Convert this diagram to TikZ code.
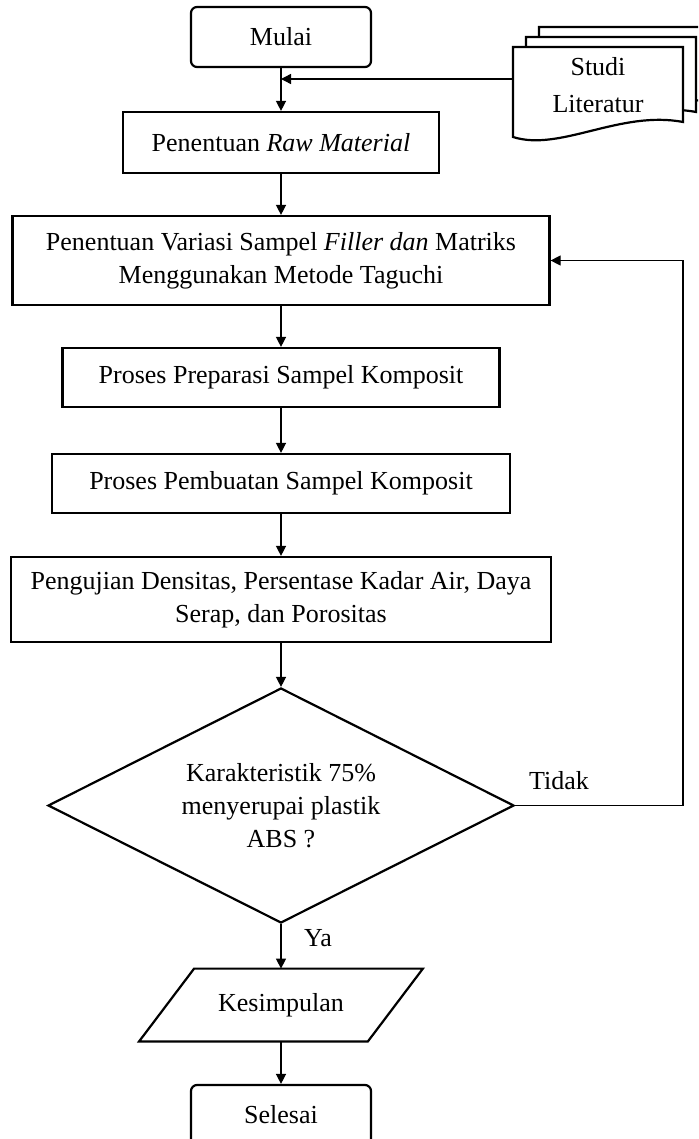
\documentclass[tikz,border=0pt]{standalone}
\usepackage{fontspec}
\setmainfont{Liberation Serif}
\usetikzlibrary{arrows.meta,positioning,shapes.geometric}

\begin{document}
\begin{tikzpicture}[x=0.5pt, y=-0.5pt, font=\fontsize{13}{16.5}\selectfont,
    term/.style={draw, line width=1.1pt, rounded corners=3pt, minimum width=90pt, minimum height=30pt},
    proc/.style={draw, line width=1.1pt, align=center, inner sep=0pt},
    decide/.style={draw, diamond, aspect=2, line width=1.1pt, align=center, inner sep=0pt, minimum width=233pt, minimum height=117.5pt},
    io/.style={inner sep=0pt, minimum width=114pt, minimum height=36pt},
    doc/.style={draw, line width=1.1pt, fill=white},
    flow/.style={-{Triangle[length=5pt, width=5pt]}, line width=0.7pt},
    back/.style={line width=0.6pt}
]

% Page frame (bottom box is cut off like in the source)
\useasboundingbox (0,0) rectangle (698,1139);
\clip (0,0) rectangle (698,1139);

% Literature documents (stack of three)
\foreach \dx/\dy in {26/-20, 13/-10, 0/0}
    \draw[doc, shift={(\dx,\dy)}] (513,47) -- (683,47) -- (683,122) .. controls (620,110) and (560,152) .. (513,137) -- cycle;
\node[align=center, inner sep=0pt] (studi) at (598,85) {Studi\\[2pt]Literatur};
\coordinate (docin) at (513,79);

% Main flow
\node[term] (mulai) at (281,37) {Mulai};
\node[proc, minimum width=158pt, minimum height=30.5pt] (raw) at (281,142.5) {Penentuan \textit{Raw Material}};
\node[proc, minimum width=268.5pt, minimum height=44.5pt] (filler) at (281,260.5) {Penentuan Variasi Sampel \textit{Filler dan} Matriks\\Menggunakan Metode Taguchi};
\node[proc, minimum width=218.5pt, minimum height=29.5pt] (prep) at (281,377.5) {Proses Preparasi Sampel Komposit};
\node[proc, minimum width=229pt, minimum height=29.5pt] (buat) at (281,483.5) {Proses Pembuatan Sampel Komposit};
\node[proc, minimum width=270pt, minimum height=42.5pt] (uji) at (281,599.5) {Pengujian Densitas, Persentase Kadar Air, Daya\\Serap, dan Porositas};
\node[decide] (cek) at (281,805.5) {Karakteristik 75\%\\menyerupai plastik\\ABS ?};
\node[io] (simpul) at (281,1005) {Kesimpulan};
\draw[line width=1.1pt] ([xshift=13.75pt]simpul.north west) -- ([xshift=13.75pt]simpul.north east)
    -- ([xshift=-13.75pt]simpul.south east) -- ([xshift=-13.75pt]simpul.south west) -- cycle;
\node[term] (selesai) at (281,1115) {Selesai};

% Labels
\node (tidak) at (559,781) {Tidak};
\node (ya) at (318,938) {Ya};

% Connectors
\draw[flow] (mulai) -- (raw);
\draw[flow] (docin) -- (mulai.south |- docin);
\draw[flow] (raw) -- (filler);
\draw[flow] (filler) -- (prep);
\draw[flow] (prep) -- (buat);
\draw[flow] (buat) -- (uji);
\draw[flow] (uji) -- (cek);
\draw[flow] (cek) -- (simpul);
\draw[flow] (simpul) -- (selesai);

% Back to variation step
\coordinate (loop) at (683,0);
\draw[flow, back] (cek.east) -- (cek.east -| loop) -- (filler.east -| loop) -- (filler.east);

\end{tikzpicture}
\end{document}
